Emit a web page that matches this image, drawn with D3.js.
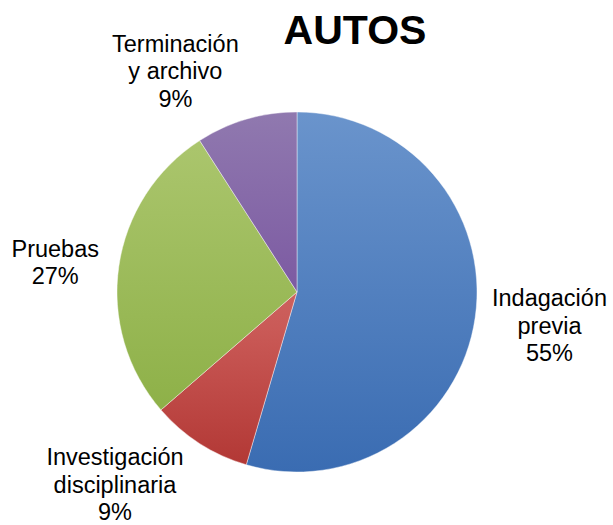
<!DOCTYPE html>
<html>
<head>
<meta charset="utf-8">
<script src="https://cdn.jsdelivr.net/npm/d3@7"></script>
<style>
  body { margin: 0; background: #fff; }
  text { font-family: "Liberation Sans", Arial, sans-serif; fill: #000; }
</style>
</head>
<body>
<div id="chart"></div>
<script>
// data
let categories = ['Indagación previa', 'Investigación disciplinaria', 'Pruebas', 'Terminación y archivo'];
let labelLines = [['Indagación', 'previa'], ['Investigación', 'disciplinaria'], ['Pruebas'], ['Terminación', 'y archivo']];
let values = [6, 1, 3, 1];
let chartTitle = 'AUTOS';

// colours: gradient stops (top -> bottom of the pie) for each slice
let colors = [
  [['0', '#6A94CC'], ['1', '#3A6CB2']],
  [['0', '#D98682'], ['0.6', '#CA5A57'], ['1', '#B13633']],
  [['0', '#B0CA76'], ['0.1', '#AAC56C'], ['0.85', '#8DB047'], ['1', '#88AC42']],
  [['0', '#9079AF'], ['0.5', '#7C5AA2'], ['1', '#6A4890']]
];
// small per-label shifts, like Excel's best-fit placement
let labelNudge = [[0, -1.5], [-49, -13], [-3, 6], [-54, 10.5]];

let width = 613, height = 525;
let cx = 297, cy = 292, radius = 180;
let fontSize = 23.5, lineH = 27.5;

let svg = d3.select('#chart').append('svg')
  .attr('width', width)
  .attr('height', height);

const defs = svg.append('defs');
colors.forEach((stops, i) => {
  let grad = defs.append('linearGradient')
    .attr('id', 'grad' + i)
    .attr('gradientUnits', 'userSpaceOnUse')
    .attr('x1', 0).attr('x2', 0)
    .attr('y1', -radius).attr('y2', radius);
  stops.forEach(s => {
    grad.append('stop').attr('offset', s[0]).attr('stop-color', s[1]);
  });
});

const pie = d3.pie().sort(null).value(d => d);
const arcs = pie(values);
const arc = d3.arc().innerRadius(0).outerRadius(radius);
const total = d3.sum(values);
const pct = d3.format('.0%');

const g = svg.append('g').attr('transform', 'translate(' + cx + ',' + cy + ')');

g.selectAll('path')
  .data(arcs)
  .enter()
  .append('path')
  .attr('d', arc)
  .attr('fill', (d, i) => 'url(#grad' + i + ')')
  .attr('stroke', 'rgba(255,255,255,0.6)')
  .attr('stroke-width', 0.7);

// labels: anchor on a ring just outside the pie, text box pushed outward
let labelR = 197;
const labels = g.selectAll('g.label')
  .data(arcs)
  .enter()
  .append('g')
  .attr('class', 'label');

labels.each(function(d, i) {
  let lines = labelLines[i].concat([pct(d.data / total)]);
  let txt = d3.select(this).append('text')
    .attr('text-anchor', 'middle')
    .attr('font-size', fontSize);
  lines.forEach((s, j) => {
    txt.append('tspan')
      .attr('x', 0)
      .attr('y', (j - (lines.length - 1) / 2) * lineH + 7)
      .text(s);
  });
  let w = txt.node().getBBox().width;
  let h = lines.length * lineH;
  let a = (d.startAngle + d.endAngle) / 2;
  let ux = Math.sin(a), uy = -Math.cos(a);
  let t = Math.min((w / 2) / Math.max(Math.abs(ux), 1e-6), (h / 2) / Math.max(Math.abs(uy), 1e-6));
  let x = (labelR + t) * ux + labelNudge[i][0];
  let y = (labelR + t) * uy + labelNudge[i][1];
  d3.select(this).attr('transform', 'translate(' + x + ',' + y + ')');
});

svg.append('text')
  .attr('x', 355)
  .attr('y', 44)
  .attr('text-anchor', 'middle')
  .attr('font-size', 41)
  .attr('font-weight', 'bold')
  .text(chartTitle);
</script>
</body>
</html>
